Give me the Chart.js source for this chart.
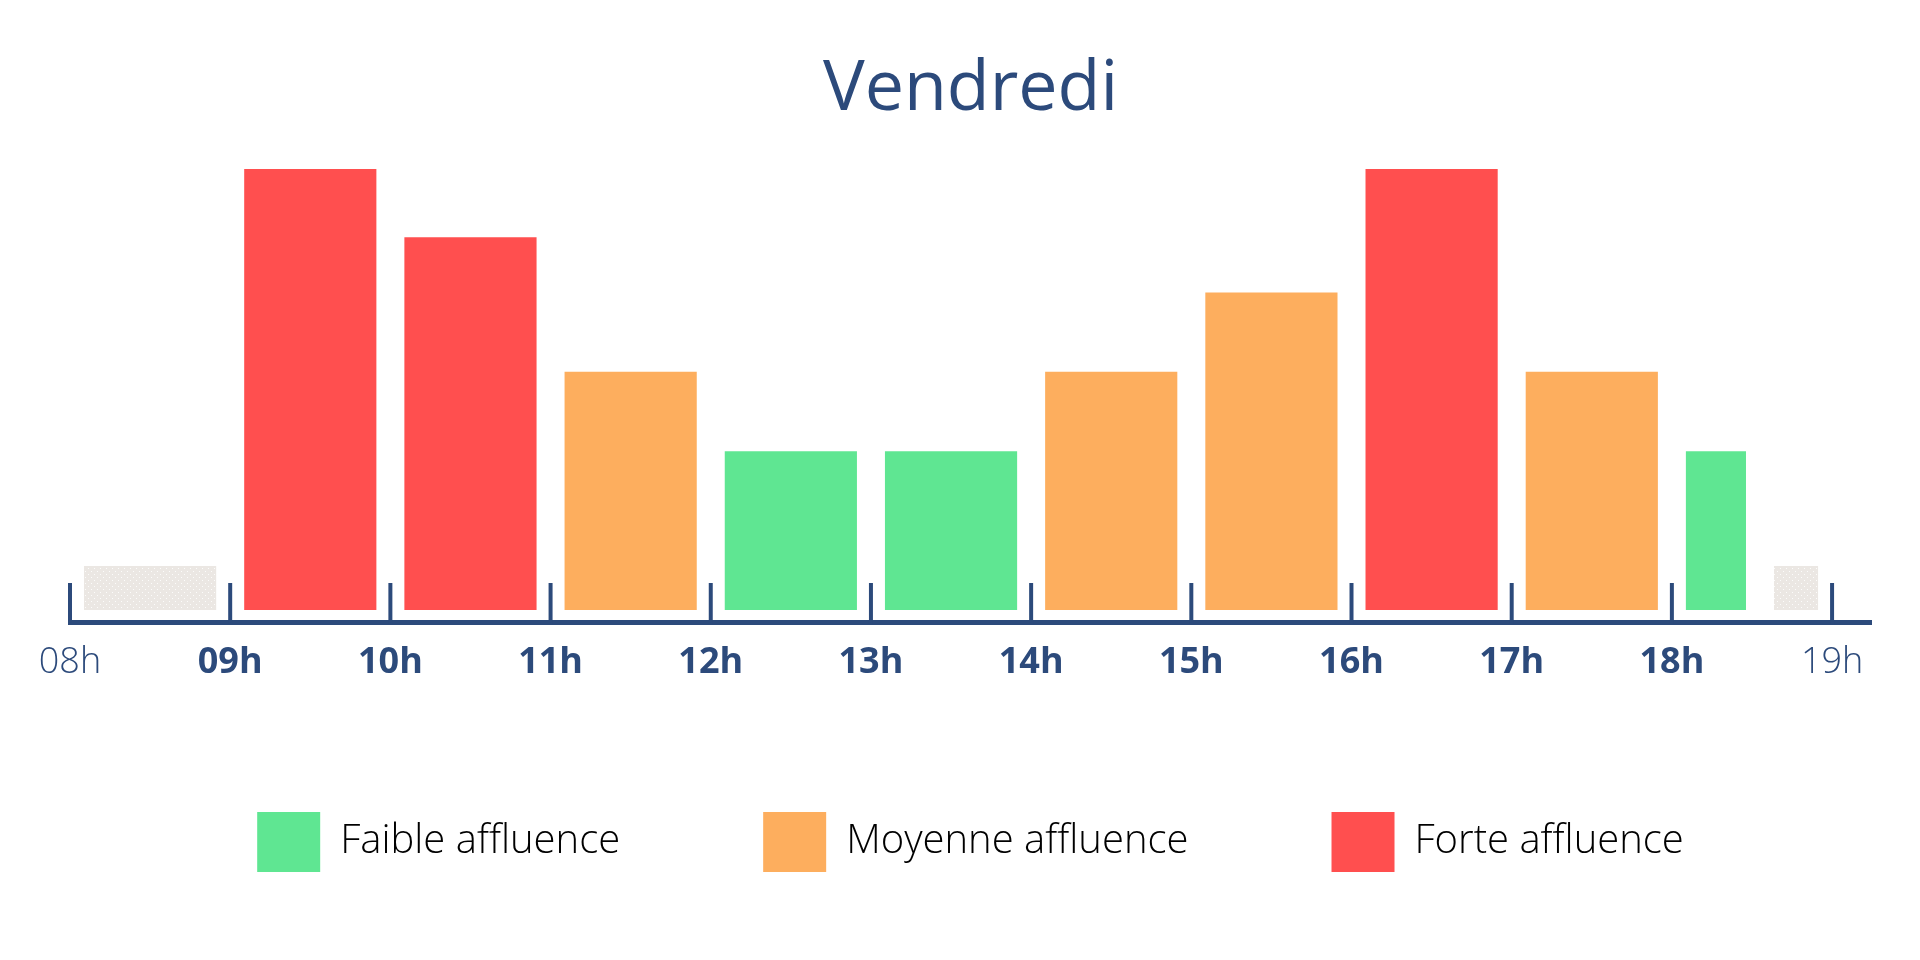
<!DOCTYPE html>
<html>
<head>
<meta charset="utf-8">
<title>Vendredi</title>
<script src="https://cdn.jsdelivr.net/npm/chart.js@4.4.1/dist/chart.umd.min.js"></script>
<style>
    html, body { margin: 0; padding: 0; background: #ffffff; }
    #chart { display: block; }
</style>
</head>
<body>
<canvas id="chart" width="1920" height="960"></canvas>
<script>
var hourTicks = [8, 9, 10, 11, 12, 13, 14, 15, 16, 17, 18, 19];
var hourLabels = ["08h", "09h", "10h", "11h", "12h", "13h", "14h", "15h", "16h", "17h", "18h", "19h"];

// one bar per time slot (hours), value = relative crowd level
var barStart = [8, 9, 10, 11, 12, 13, 14, 15, 16, 17, 18, 18.55];
var barEnd = [9, 10, 11, 12, 13, 14, 15, 16, 17, 18, 18.55, 19];
var barValue = [10, 100, 84.5, 54, 36, 36, 54, 72, 100, 54, 36, 10];
var barLevel = ["ferme", "forte", "forte", "moyenne", "faible", "faible", "moyenne", "moyenne", "forte", "moyenne", "faible", "ferme"];

var legendLevels = ["faible", "moyenne", "forte"];
var legendLabels = ["Faible affluence", "Moyenne affluence", "Forte affluence"];

(function(global){
    "use strict";

    var NAVY = "#2c4a7b";
    var FONT = "'Open Sans', 'Noto Sans', sans-serif";
    var BAR_INSET = 14;
    var TICK_HEIGHT = 39;

    var makeDots = function() {
        var c = document.createElement("canvas");
        c.width = 6;
        c.height = 6;
        var g = c.getContext("2d");
        g.fillStyle = "#ebe7e3";
        g.fillRect(0, 0, 6, 6);
        g.fillStyle = "rgba(255,255,255,0.85)";
        g.fillRect(1, 1, 1, 1);
        g.fillRect(4, 4, 1, 1);
        return g.createPattern(c, "repeat");
    };

    var colors = {
        faible: "#5fe692",
        moyenne: "#fdae5e",
        forte: "#ff4f4f",
        ferme: makeDots()
    };

    var points = [];
    for(var i = 0; i < barValue.length; i++) {
        points.push({x: (barStart[i] + barEnd[i]) / 2, y: barValue[i]});
    }

    // bars follow their own time slot instead of a fixed width
    var slotWidths = {
        id: "slotWidths",
        afterDatasetsUpdate: function(chart) {
            var xs = chart.scales.x;
            var meta = chart.getDatasetMeta(0);
            for(var i = 0; i < meta.data.length; i++) {
                var x0 = xs.getPixelForValue(barStart[i]) + BAR_INSET;
                var x1 = xs.getPixelForValue(barEnd[i]) - BAR_INSET;
                meta.data[i].x = (x0 + x1) / 2;
                meta.data[i].width = x1 - x0;
            }
        }
    };

    // tick marks stand up from the axis line
    var upTicks = {
        id: "upTicks",
        afterDraw: function(chart) {
            var xs = chart.scales.x;
            var ctx = chart.ctx;
            ctx.save();
            ctx.strokeStyle = NAVY;
            ctx.lineWidth = 4;
            for(var i = 0; i < xs.ticks.length; i++) {
                var x = xs.getPixelForValue(xs.ticks[i].value);
                ctx.beginPath();
                ctx.moveTo(x, xs.top + 2);
                ctx.lineTo(x, xs.top - TICK_HEIGHT);
                ctx.stroke();
            }
            ctx.restore();
        }
    };

    global.chart = new Chart(document.getElementById("chart"), {
        type: "bar",
        data: {
            datasets: [{
                data: points,
                backgroundColor: barLevel.map(function(l){ return colors[l]; }),
                borderWidth: 0
            }]
        },
        options: {
            responsive: false,
            animation: false,
            layout: {
                padding: {left: 70, right: 49, top: 0, bottom: 78}
            },
            scales: {
                x: {
                    type: "linear",
                    offset: false,
                    min: 8,
                    max: 19.243,
                    afterBuildTicks: function(scale) {
                        scale.ticks = hourTicks.map(function(v){ return {value: v}; });
                    },
                    afterFit: function(scale) {
                        scale.height = 47;
                    },
                    grid: {display: false, drawTicks: false},
                    border: {display: true, color: NAVY, width: 5},
                    ticks: {
                        autoSkip: false,
                        maxRotation: 0,
                        // mirrored labels are not clipped to the (short) axis box
                        mirror: true,
                        padding: -62,
                        color: NAVY,
                        callback: function(v, i) { return hourLabels[i]; },
                        font: function(ctx) {
                            var thin = ctx.index === 0 || ctx.index === hourTicks.length - 1;
                            return {family: FONT, size: 36, weight: thin ? 300 : 700};
                        }
                    }
                },
                y: {
                    display: false,
                    min: -2.72,
                    max: 100
                }
            },
            plugins: {
                title: {
                    display: true,
                    text: "Vendredi",
                    color: NAVY,
                    font: {family: FONT, size: 70, weight: 400, lineHeight: 1.2},
                    padding: {top: 48, bottom: 37}
                },
                legend: {
                    position: "bottom",
                    labels: {
                        boxWidth: 63,
                        boxHeight: 60,
                        padding: 143,
                        color: NAVY,
                        font: {family: FONT, size: 40, weight: 300},
                        generateLabels: function() {
                            return legendLevels.map(function(l, i){
                                return {
                                    text: legendLabels[i],
                                    fillStyle: colors[l],
                                    strokeStyle: colors[l],
                                    lineWidth: 0,
                                    hidden: false,
                                    index: i
                                };
                            });
                        }
                    },
                    onClick: function() {}
                },
                tooltip: {enabled: false}
            }
        },
        plugins: [slotWidths, upTicks]
    });

})(window);
</script>
</body>
</html>
